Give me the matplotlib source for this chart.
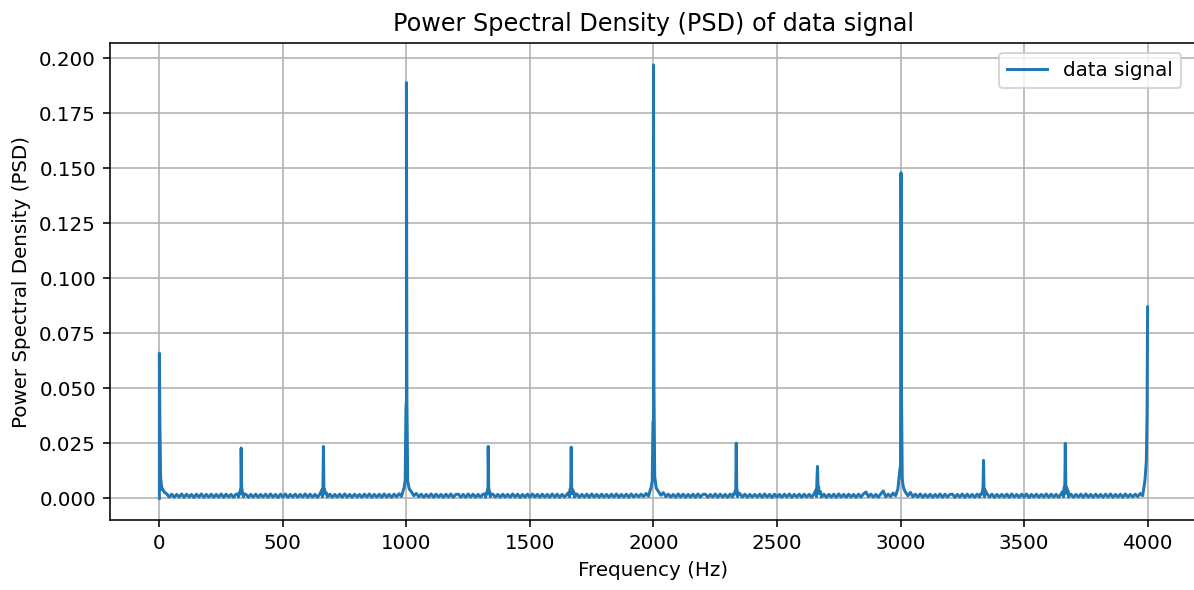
import numpy as np
import matplotlib
matplotlib.use("Agg")
import matplotlib.pyplot as plt

# -----------------------------
# DATA
# -----------------------------
# main spectral lines: frequency (Hz) and peak PSD
peak_freq = [0, 331, 664, 1000, 1331, 1667, 2000, 2335, 2664, 3002, 3336, 3667, 4000]
peak_psd = [0.066, 0.0229, 0.0236, 0.189, 0.0236, 0.0233, 0.197, 0.0251, 0.0145, 0.148, 0.0173, 0.025, 0.087]

# shoulders next to each line (left / right), at +-2 Hz
shoulder_l = [0.0, 0.004, 0.005, 0.041, 0.004, 0.005, 0.035, 0.004, 0.0097, 0.0195, 0.005, 0.006, 0.039]
shoulder_r = [0.035, 0.005, 0.004, 0.045, 0.005, 0.004, 0.050, 0.005, 0.006, 0.047, 0.004, 0.006, 0.0]
# skirts at +-5 Hz
skirt_l = [0.0, 0.003, 0.0040, 0.008, 0.003, 0.004, 0.008, 0.003, 0.004, 0.0127, 0.003, 0.005, 0.017]
skirt_r = [0.0097, 0.003, 0.0040, 0.008, 0.003, 0.004, 0.010, 0.003, 0.005, 0.009, 0.004, 0.005, 0.0]
# feet at +-12 Hz
foot_l = [0.0, 0.0020, 0.0025, 0.0040, 0.0020, 0.0025, 0.0042, 0.0020, 0.0025, 0.0050, 0.0020, 0.0030, 0.0070]
foot_r = [0.0045, 0.0020, 0.0025, 0.0042, 0.0020, 0.0025, 0.0045, 0.0020, 0.0030, 0.0042, 0.0025, 0.0030, 0.0]
offsets = [2, 5, 12]

# noise floor, sampled every 10 Hz from 10 to 3990 Hz (one row = 200 Hz)
floor_freq = np.arange(10, 4000, 10)
floor_psd = [
    0.0040, 0.0028, 0.0020, 0.0006, 0.0019, 0.0005, 0.0018, 0.0006, 0.0020, 0.0005,
    0.0019, 0.0006, 0.0018, 0.0004, 0.0019, 0.0006, 0.0020, 0.0005, 0.0018, 0.0006,
    0.0019, 0.0005, 0.0018, 0.0006, 0.0020, 0.0005, 0.0019, 0.0006, 0.0018, 0.0005,
    0.0019, 0.0006, 0.0021, 0.0007, 0.0019, 0.0005, 0.0018, 0.0006, 0.0019, 0.0005,
    0.0018, 0.0006, 0.0019, 0.0005, 0.0020, 0.0006, 0.0018, 0.0004, 0.0019, 0.0006,
    0.0020, 0.0005, 0.0018, 0.0006, 0.0019, 0.0005, 0.0018, 0.0006, 0.0020, 0.0005,
    0.0019, 0.0006, 0.0018, 0.0005, 0.0020, 0.0007, 0.0022, 0.0006, 0.0019, 0.0005,
    0.0018, 0.0006, 0.0019, 0.0005, 0.0020, 0.0006, 0.0018, 0.0005, 0.0019, 0.0006,
    0.0018, 0.0005, 0.0019, 0.0006, 0.0020, 0.0005, 0.0018, 0.0006, 0.0019, 0.0005,
    0.0020, 0.0006, 0.0018, 0.0005, 0.0019, 0.0007, 0.0021, 0.0009, 0.0045, 0.0450,
    0.0050, 0.0030, 0.0012, 0.0022, 0.0007, 0.0019, 0.0005, 0.0018, 0.0006, 0.0020,
    0.0005, 0.0019, 0.0006, 0.0018, 0.0005, 0.0019, 0.0006, 0.0020, 0.0005, 0.0018,
    0.0019, 0.0006, 0.0018, 0.0005, 0.0020, 0.0006, 0.0019, 0.0005, 0.0018, 0.0006,
    0.0019, 0.0005, 0.0021, 0.0007, 0.0019, 0.0006, 0.0018, 0.0005, 0.0019, 0.0006,
    0.0018, 0.0005, 0.0020, 0.0006, 0.0019, 0.0004, 0.0018, 0.0006, 0.0019, 0.0005,
    0.0020, 0.0006, 0.0018, 0.0005, 0.0019, 0.0006, 0.0018, 0.0005, 0.0020, 0.0006,
    0.0019, 0.0005, 0.0018, 0.0006, 0.0019, 0.0007, 0.0022, 0.0006, 0.0020, 0.0005,
    0.0018, 0.0006, 0.0019, 0.0005, 0.0020, 0.0006, 0.0018, 0.0005, 0.0019, 0.0006,
    0.0018, 0.0005, 0.0019, 0.0006, 0.0020, 0.0005, 0.0018, 0.0006, 0.0019, 0.0005,
    0.0020, 0.0006, 0.0018, 0.0007, 0.0019, 0.0008, 0.0022, 0.0010, 0.0045, 0.0350,
    0.0055, 0.0032, 0.0014, 0.0026, 0.0008, 0.0019, 0.0006, 0.0018, 0.0005, 0.0020,
    0.0006, 0.0019, 0.0005, 0.0018, 0.0006, 0.0019, 0.0005, 0.0020, 0.0006, 0.0018,
    0.0019, 0.0005, 0.0018, 0.0006, 0.0020, 0.0005, 0.0019, 0.0006, 0.0018, 0.0005,
    0.0019, 0.0006, 0.0020, 0.0008, 0.0021, 0.0006, 0.0019, 0.0005, 0.0018, 0.0006,
    0.0018, 0.0006, 0.0019, 0.0005, 0.0020, 0.0006, 0.0018, 0.0004, 0.0019, 0.0006,
    0.0018, 0.0005, 0.0019, 0.0006, 0.0020, 0.0005, 0.0018, 0.0006, 0.0019, 0.0005,
    0.0019, 0.0006, 0.0018, 0.0005, 0.0020, 0.0008, 0.0022, 0.0006, 0.0019, 0.0005,
    0.0018, 0.0006, 0.0019, 0.0005, 0.0020, 0.0006, 0.0018, 0.0005, 0.0019, 0.0006,
    0.0018, 0.0005, 0.0019, 0.0006, 0.0020, 0.0029, 0.0008, 0.0019, 0.0006, 0.0018,
    0.0005, 0.0020, 0.0034, 0.0007, 0.0019, 0.0008, 0.0024, 0.0012, 0.0045, 0.0150,
    0.0060, 0.0028, 0.0012, 0.0027, 0.0007, 0.0019, 0.0006, 0.0020, 0.0005, 0.0018,
    0.0006, 0.0019, 0.0005, 0.0018, 0.0006, 0.0020, 0.0005, 0.0019, 0.0006, 0.0018,
    0.0019, 0.0005, 0.0018, 0.0006, 0.0020, 0.0005, 0.0019, 0.0006, 0.0018, 0.0005,
    0.0019, 0.0006, 0.0020, 0.0007, 0.0021, 0.0006, 0.0019, 0.0005, 0.0018, 0.0006,
    0.0018, 0.0006, 0.0019, 0.0005, 0.0020, 0.0006, 0.0018, 0.0005, 0.0019, 0.0006,
    0.0020, 0.0004, 0.0018, 0.0006, 0.0019, 0.0005, 0.0018, 0.0006, 0.0020, 0.0005,
    0.0019, 0.0006, 0.0018, 0.0005, 0.0020, 0.0007, 0.0023, 0.0006, 0.0019, 0.0005,
    0.0018, 0.0006, 0.0019, 0.0005, 0.0020, 0.0006, 0.0018, 0.0005, 0.0019, 0.0006,
    0.0018, 0.0005, 0.0019, 0.0006, 0.0020, 0.0005, 0.0018, 0.0006, 0.0019, 0.0005,
    0.0020, 0.0006, 0.0018, 0.0007, 0.0019, 0.0008, 0.0022, 0.0012, 0.0090,
]

# -----------------------------
# BUILD THE CURVE
# -----------------------------
f_pts = list(floor_freq)
p_pts = list(floor_psd)
for i, f0 in enumerate(peak_freq):
    f_pts.append(f0)
    p_pts.append(peak_psd[i])
    left = [shoulder_l[i], skirt_l[i], foot_l[i]]
    right = [shoulder_r[i], skirt_r[i], foot_r[i]]
    for d, vl, vr in zip(offsets, left, right):
        if f0 - d >= 0:
            f_pts.append(f0 - d)
            p_pts.append(vl)
        if f0 + d <= 4000:
            f_pts.append(f0 + d)
            p_pts.append(vr)
# DC line starts from zero
f_pts.append(0)
p_pts.append(0.0)

f_pts = np.array(f_pts, dtype=float)
p_pts = np.array(p_pts)
order = np.argsort(f_pts, kind="stable")
freqs = f_pts[order]
psd = p_pts[order]
# put the zero sample before the DC peak
dc = np.where(freqs == 0)[0]
psd[dc] = [0.0, peak_psd[0]]

# -----------------------------
# PLOT
# -----------------------------
DPI = 143
fig = plt.figure(figsize=(1194 / DPI, 590 / DPI), dpi=DPI)
# the right edge of the axes runs just past the figure, as in the reference crop
ax = fig.add_axes([0.0921, 0.1186, 0.9104, 0.808])
ax.spines["right"].set_visible(False)
ax.plot(freqs, psd, label="data signal")
ax.set_xlim(-200, 4200)
ax.set_title("Power Spectral Density (PSD) of data signal")
ax.set_xlabel("Frequency (Hz)")
ax.set_ylabel("Power Spectral Density (PSD)")
ax.grid(True)
ax.legend(loc="upper right", bbox_to_anchor=(0.994, 1.0))

fig.savefig("out.png", dpi=DPI)
